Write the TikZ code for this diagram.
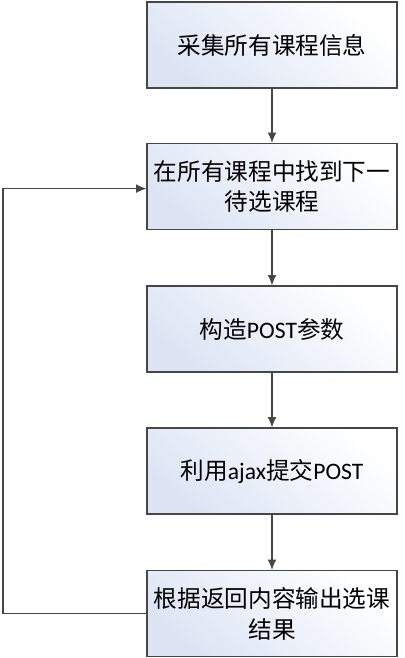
\documentclass[tikz,border=0pt]{standalone}
\usepackage{fontspec}
\setmainfont{Carlito}
\newfontfamily\cjk{Noto Sans CJK SC}
\newfontfamily\lat{Carlito}
\usetikzlibrary{arrows.meta}

\definecolor{boxblue}{RGB}{220,228,244}
\definecolor{boxline}{RGB}{70,70,70}

\tikzset{
  stepbox/.style={draw=boxline, line width=0.8pt, top color=white, bottom color=boxblue,
    shading angle=-40, minimum width=6.25cm, minimum height=2.15cm, align=center,
    font=\fontsize{16.8}{22}\selectfont\cjk},
  flow/.style={draw=boxline, line width=0.75pt, -{Latex[length=2.6mm,width=2.2mm]}}
}

\begin{document}
\begin{tikzpicture}[x=0.025cm, y=-0.025cm]
    \useasboundingbox (0,0) rectangle (404,658);
    \node[stepbox] (collect) at (272,45) {采集所有课程信息};
    \node[stepbox] (next) at (272,186.5) {在所有课程中找到下一\\待选课程};
    \node[stepbox] (build) at (272,329) {构造{\lat POST}参数};
    \node[stepbox] (submit) at (272,471) {利用{\lat ajax}提交{\lat POST}};
    \node[stepbox] (result) at (272,613.5) {根据返回内容输出选课\\结果};
    \draw[flow] (collect) -- (next);
    \draw[flow] (next) -- (build);
    \draw[flow] (build) -- (submit);
    \draw[flow] (submit) -- (result);
    \coordinate (back) at (3,613.5);
    \draw[flow] (result.west) -- (back) |- ([yshift=-1.5]next.west);
\end{tikzpicture}
\end{document}
